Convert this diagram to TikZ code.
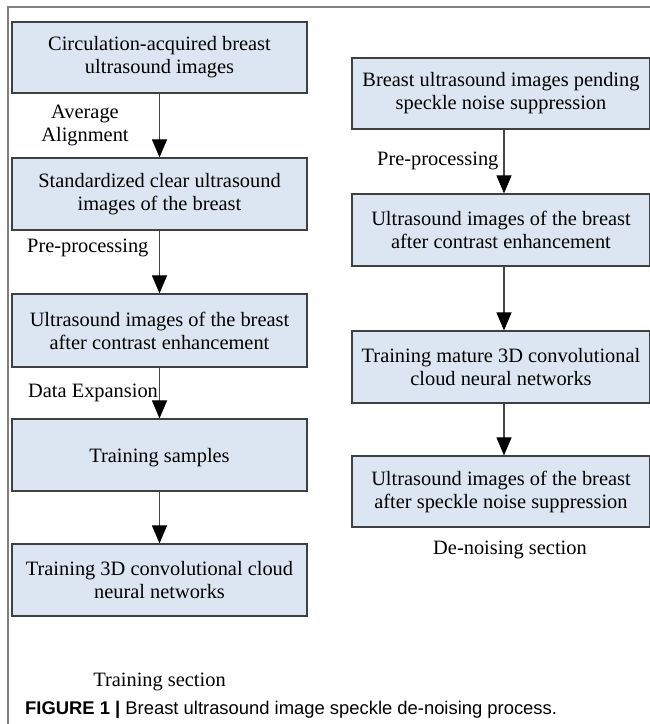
\documentclass[tikz,border=0pt]{standalone}
\usepackage{fontspec}
\setmainfont{Liberation Serif}
\newfontfamily\capfont{Liberation Sans}
\usetikzlibrary{arrows.meta}
\definecolor{boxfill}{RGB}{220,230,242}
\definecolor{boxline}{RGB}{64,64,64}
\definecolor{framegray}{RGB}{128,128,128}
\definecolor{arrline}{RGB}{70,70,70}
\begin{document}
\begin{tikzpicture}[x=1pt,y=-1pt,
  box/.style={draw=boxline, line width=1.2pt, fill=boxfill, minimum width=295pt,
    minimum height=72pt, inner sep=0pt, align=center,
    font=\fontsize{20.4}{23}\selectfont},
  rbox/.style={box, minimum width=298pt},
  lbl/.style={inner sep=0pt, font=\fontsize{20.4}{23}\selectfont},
  arr/.style={draw=arrline, line width=1.1pt, -{Triangle[width=15pt,length=18pt,color=black]}}]
\useasboundingbox (0,0) rectangle (650,724);
% frame
\draw[framegray, line width=1.5pt] (8,724) -- (8,7) -- (650.5,7);
% left column
\node[box, minimum height=71pt] (b1) at (159.5,57.5) {Circulation-acquired breast\\ultrasound images};
\node[box] (b2) at (159.5,194) {Standardized clear ultrasound\\images of the breast};
\node[box, minimum height=73pt] (b3) at (159.5,330.5) {Ultrasound images of the breast\\after contrast enhancement};
\node[box, text height=14pt, text depth=0pt] (b4) at (159.5,455) {Training samples};
\node[box] (b5) at (159.5,580) {Training 3D convolutional cloud\\neural networks};
% right column
\node[rbox, minimum height=71pt] (r1) at (501,93.5) {Breast ultrasound images pending\\speckle noise suppression};
\node[rbox] (r2) at (501,230) {Ultrasound images of the breast\\after contrast enhancement};
\node[rbox] (r3) at (501,367) {Training mature 3D convolutional\\cloud neural networks};
\node[rbox, minimum height=71pt] (r4) at (501,491.5) {Ultrasound images of the breast\\after speckle noise suppression};
% arrows
\draw[arr] (b1) -- (b2);
\draw[arr] (b2) -- (b3);
\draw[arr] (b3) -- (b4);
\draw[arr] (b4) -- (b5);
\draw[arr] ([xshift=3pt]r1.south) -- ([xshift=3pt]r2.north);
\draw[arr] ([xshift=3pt]r2.south) -- ([xshift=3pt]r3.north);
\draw[arr] ([xshift=3pt]r3.south) -- ([xshift=3pt]r4.north);
% labels
\node[lbl, anchor=north, align=center] (avg) at (85,105) {Average\\Alignment};
\node[lbl, anchor=base west] (pp1) at (27,252) {Pre-processing};
\node[lbl, anchor=base west] (dexp) at (28,397) {Data Expansion};
\node[lbl, anchor=base west] (pp2) at (377,165) {Pre-processing};
\node[lbl, anchor=base] (dsec) at (510,554) {De-noising section};
\node[lbl, anchor=base] (tsec) at (159.5,686) {Training section};
% caption
\node[anchor=base west, inner sep=0pt, font=\capfont\fontsize{18.4}{20}\selectfont] (cap) at (25,714)
  {\textbf{FIGURE 1 |} Breast ultrasound image speckle de-noising process.};
\end{tikzpicture}
\end{document}
